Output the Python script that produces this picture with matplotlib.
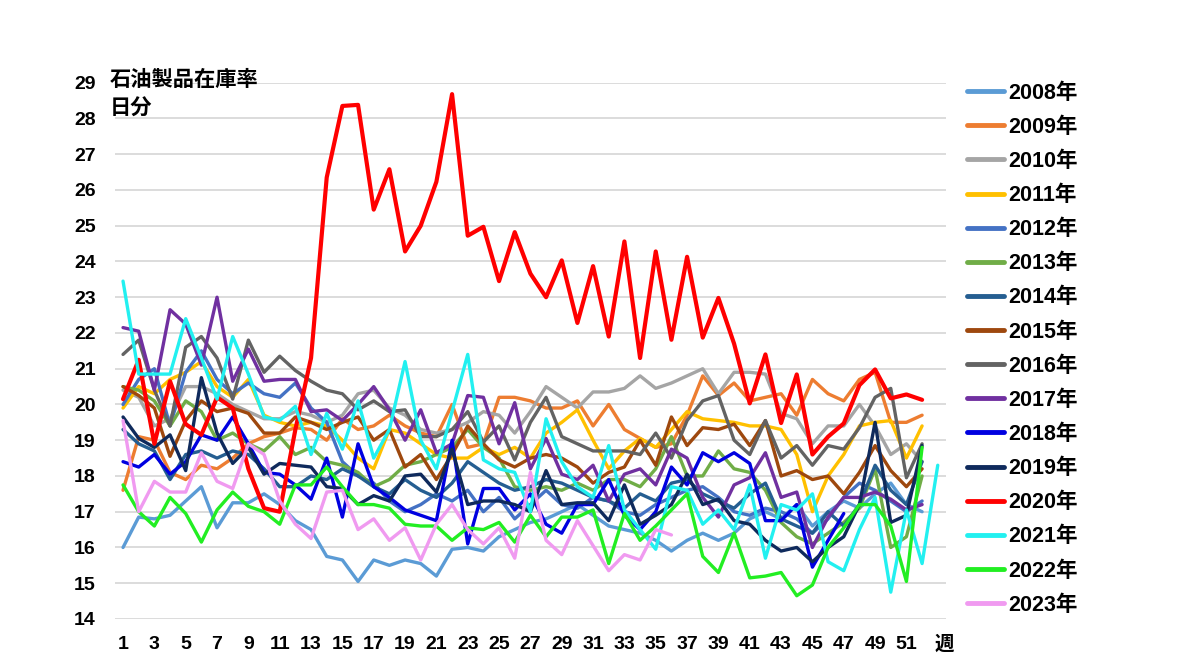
import numpy as np
import matplotlib
matplotlib.use("Agg")
import matplotlib.pyplot as plt
from matplotlib import font_manager

# weekly oil product inventory ratio (days of supply), by year
y2008 = [16.0, 16.85, 16.8, 16.9, 17.3, 17.7, 16.55, 17.25, 17.25, 17.5, 17.2, 16.75, 16.5, 15.75,
         15.65, 15.05, 15.65, 15.5, 15.65, 15.55, 15.2, 15.95, 16.0, 15.9, 16.3, 16.5, 16.7,
         16.8, 17.0, 17.2, 16.9, 16.6, 16.5, 16.4, 16.2, 15.9, 16.2, 16.4, 16.2, 16.4, 16.8,
         17.0, 16.8, 17.2, 16.6, 17.0, 17.3, 17.1, 17.5, 17.8, 17.2, 17.0]
y2009 = [17.6, 19.1, 19.0, 18.1, 17.9, 18.3, 18.2, 18.5, 18.9, 19.1,
         19.2, 19.35, 19.3, 19.0, 19.6, 19.3, 19.4, 19.7, 19.4, 19.2,
         19.1, 20.0, 18.8, 18.9, 20.2, 20.2, 20.1, 19.9, 19.9, 20.1,
         19.4, 20.0, 19.3, 19.05, 18.8, 18.9, 19.7, 20.8, 20.25, 20.6,
         20.1, 20.2, 20.3, 19.7, 20.7, 20.3, 20.1, 20.7, 20.9, 19.5, 19.5, 19.7]
y2010 = [20.4, 20.2, 19.4, 19.6, 20.5, 20.5, 20.3, 20.0, 19.8, 19.6,
         19.6, 19.8, 19.7, 19.5, 19.7, 20.3, 20.4, 19.9, 19.7, 19.3,
         19.2, 19.3, 19.5, 19.8, 19.7, 19.2, 19.8, 20.5, 20.2, 19.9,
         20.35, 20.35, 20.45, 20.8, 20.45, 20.6, 20.8, 21.0, 20.3, 20.9,
         20.9, 20.85, 19.75, 19.6, 18.9, 19.4, 19.4, 20.0, 19.4, 18.6, 18.9, 18.4]
y2011 = [19.9, 20.5, 20.3, 20.7, 20.9, 21.2, 20.5, 20.2, 20.7, 19.7,
         19.5, 19.4, 19.5, 19.4, 19.0, 18.5, 18.2, 19.3, 19.2, 18.9,
         18.6, 18.5, 18.5, 18.8, 18.6, 18.8, 18.5, 19.2, 19.5, 19.85,
         19.0, 18.2, 18.7, 19.05, 18.8, 19.3, 19.8, 19.6, 19.55, 19.5,
         19.4, 19.4, 19.3, 18.6, 17.0, 18.0, 18.6, 19.4, 19.5, 19.55, 18.5, 19.4]
y2012 = [20.0, 20.7, 21.0, 19.4, 20.9, 21.5, 20.7, 20.3, 20.6, 20.3,
         20.2, 20.6, 19.9, 19.5, 18.4, 18.0, 17.8, 17.3, 17.0, 17.2,
         17.5, 17.3, 17.6, 17.0, 17.4, 16.8, 17.2, 17.6, 17.2, 17.1,
         17.4, 17.3, 17.0, 16.9, 17.2, 17.4, 17.6, 17.7, 17.4, 17.0,
         16.9, 17.1, 17.0, 16.8, 16.4, 16.8, 17.4, 17.8, 17.6, 17.3, 17.0, 17.3]
y2013 = [20.5, 20.4, 20.1, 19.4, 20.1, 19.8, 19.0, 19.2, 18.9, 18.7,
         19.1, 18.6, 18.8, 18.4, 18.3, 18.1, 17.7, 17.9, 18.3, 18.4,
         18.6, 18.8, 19.3, 18.8, 18.5, 17.7, 17.6, 17.7, 17.6, 17.8,
         17.6, 17.9, 17.9, 17.7, 18.2, 19.1, 18.0, 18.0, 18.7, 18.2,
         18.1, 17.6, 16.7, 16.3, 16.1, 16.4, 16.7, 17.1, 18.2, 16.0, 16.3, 18.0]
y2014 = [19.3, 18.9, 18.7, 17.9, 18.6, 18.7, 18.5, 18.7, 18.6, 18.2,
         17.7, 17.7, 18.0, 17.9, 18.2, 18.0, 17.7, 17.5, 17.9, 17.6,
         17.4, 17.8, 18.4, 18.1, 17.8, 17.6, 17.7, 17.9, 17.8, 17.6,
         17.4, 17.3, 17.1, 17.5, 17.3, 17.8, 17.9, 17.5, 17.3, 17.1,
         17.5, 17.8, 16.8, 16.6, 16.4, 17.0, 16.6, 17.2, 18.3, 17.6, 17.2, 18.4]
y2015 = [20.5, 20.25, 19.9, 18.55, 19.55, 20.1, 19.8, 19.9, 19.75, 19.2, 19.2, 19.65, 19.5, 19.3,
         19.5, 19.65, 19.0, 19.3, 18.25, 18.6, 17.9, 18.6, 19.4, 18.9, 18.45, 18.25, 18.5,
         18.6, 18.5, 18.25, 17.8, 18.1, 18.25, 19.0, 18.3, 19.65, 18.85, 19.35, 19.3, 19.45, 18.85,
         19.55, 18.0, 18.15, 17.9, 18.0, 17.5, 18.1, 18.85, 18.15, 17.7, 18.2]
y2016 = [21.4, 21.8, 20.4, 19.4, 21.6, 21.9, 21.3, 20.15, 21.8, 20.9, 21.35, 20.95, 20.65, 20.4,
         20.3, 19.85, 20.1, 19.8, 19.85, 19.1, 19.1, 19.3, 19.8, 18.95, 19.4, 18.45, 19.5,
         20.2, 19.1, 18.9, 18.7, 18.7, 18.7, 18.6, 19.2, 18.5, 19.55, 20.1, 20.25, 19.0, 18.6,
         19.55, 18.5, 18.85, 18.3, 18.85, 18.75, 19.35, 20.2, 20.45, 17.95, 18.9]
y2017 = [22.15, 22.05, 20.4, 22.65, 22.25, 21.1, 23.0, 20.65, 21.55, 20.65, 20.7, 20.7, 19.8, 19.85,
         19.55, 20.0, 20.5, 19.85, 19.0, 19.85, 18.65, 18.9, 20.25, 20.2, 18.9, 20.05, 18.2,
         19.05, 18.05, 17.9, 18.3, 17.3, 18.05, 18.2, 17.75, 18.75, 18.5, 17.4, 16.85, 17.75, 17.95,
         18.65, 17.4, 17.55, 16.0, 16.85, 17.4, 17.4, 17.55, 17.35, 17.05, 17.2]
y2018 = [18.4, 18.25, 18.6, 18.05, 18.4, 19.15, 19.0, 19.65, 18.9, 18.1, 18.05, 17.75, 17.35, 18.5,
         16.85, 18.9, 17.7, 17.4, 17.05, 16.9, 16.75, 19.0, 16.1, 17.65, 17.65, 17.05, 17.5,
         16.65, 16.4, 17.2, 17.2, 17.9, 16.9, 16.5, 17.0, 18.25, 17.75, 18.65, 18.4, 18.65, 18.35,
         16.75, 16.75, 17.2, 15.45, 16.2, 16.95]
y2019 = [19.65, 19.05, 18.8, 19.15, 18.15, 20.75, 19.2, 18.35, 18.8, 18.05, 18.35, 18.3, 18.25, 17.7,
         17.65, 17.2, 17.45, 17.3, 18.0, 18.05, 17.55, 18.75, 17.2, 17.3, 17.3, 17.2, 17.0,
         18.15, 17.2, 17.25, 17.25, 16.75, 17.75, 16.65, 16.9, 17.2, 18.05, 17.2, 17.35, 16.75, 16.65,
         16.2, 15.9, 16.0, 15.6, 16.0, 16.3, 17.2, 19.5, 16.7, 16.9, 18.85]
y2020 = [20.15, 21.25, 18.9, 20.65, 19.45, 19.15, 20.2, 19.9, 18.2, 17.1, 17.0, 19.3, 21.3,
         26.35, 28.35, 28.38, 25.45, 26.58, 24.28, 25.0, 26.23, 28.68, 24.72, 24.97, 23.45, 24.82,
         23.66, 23.0, 24.03, 22.28, 23.87, 21.9, 24.56, 21.3, 24.28, 21.81, 24.13, 21.87, 22.98,
         21.7, 20.03, 21.4, 19.48, 20.84, 18.6, 19.1, 19.47, 20.54, 20.98, 20.17, 20.28, 20.13]
y2021 = [23.45, 20.85, 20.85, 20.85, 22.4, 21.3, 20.15, 21.9, 20.85, 19.65, 19.55, 19.95, 18.6, 19.75,
         18.75, 20.1, 18.5, 19.3, 21.2, 19.0, 18.2, 19.8, 21.4, 18.45, 18.2, 18.1, 17.0,
         19.6, 18.4, 17.7, 17.4, 18.85, 17.05, 16.5, 15.95, 17.7, 17.6, 16.65, 17.05, 16.5, 17.75,
         15.7, 17.2, 17.05, 17.5, 15.6, 15.35, 16.5, 17.4, 14.75, 17.05, 15.55, 18.3]
y2022 = [17.75, 17.0, 16.6, 17.4, 16.95, 16.15, 17.05, 17.55, 17.15, 17.0, 16.65, 17.75, 17.75, 18.25,
         17.7, 17.2, 17.2, 17.1, 16.65, 16.6, 16.6, 16.2, 16.55, 16.5, 16.7, 16.15, 16.9,
         16.3, 16.85, 16.85, 17.05, 15.55, 16.95, 16.2, 16.6, 17.05, 17.5, 15.75, 15.3, 16.4, 15.15,
         15.2, 15.3, 14.65, 14.95, 16.0, 16.55, 17.2, 17.2, 16.6, 15.05, 18.8]
y2023 = [19.55, 17.0, 17.85, 17.55, 17.55, 18.65, 17.85, 17.65, 18.9, 18.6, 17.3, 16.65, 16.25, 17.55,
         17.6, 16.5, 16.8, 16.2, 16.55, 15.65, 16.65, 17.2, 16.5, 16.1, 16.55, 15.7, 18.1,
         16.2, 15.8, 16.75, 16.05, 15.35, 15.8, 15.65, 16.5, 16.35]

years = ["2008年", "2009年", "2010年", "2011年", "2012年", "2013年", "2014年", "2015年",
         "2016年", "2017年", "2018年", "2019年", "2020年", "2021年", "2022年", "2023年"]
series = [y2008, y2009, y2010, y2011, y2012, y2013, y2014, y2015,
          y2016, y2017, y2018, y2019, y2020, y2021, y2022, y2023]
colors = ["#5B9BD5", "#ED7D31", "#A5A5A5", "#FFC000", "#4472C4", "#70AD47", "#255E91", "#9E480E",
          "#636363", "#7030A0", "#0000E0", "#0F2A5C", "#FF0000", "#22F0F0", "#22EE22", "#F09AF0"]

tick_weeks = list(range(1, 52, 2))
tick_labels = [str(w) for w in tick_weeks]

installed = {f.name for f in font_manager.fontManager.ttflist}
num_font = "Liberation Sans Narrow" if "Liberation Sans Narrow" in installed else "Liberation Sans"
cjk = "Noto Sans CJK JP"

fig = plt.figure(figsize=(12, 6.67), dpi=100)
ax = fig.add_axes([0.096, 0.072, 0.692, 0.804])

for label, vals, c in zip(years, series, colors):
    weeks = np.arange(1, len(vals) + 1)
    lw = 3.0 if label == "2020年" else 2.4
    ax.plot(weeks, vals, color=c, linewidth=lw, label=label,
            solid_joinstyle="round", solid_capstyle="round")

ax.set_xlim(0.5, 53.5)
ax.set_ylim(14, 29)
ax.set_yticks(range(14, 30))
ax.set_xticks(tick_weeks + [53.4])
ax.set_xticklabels(tick_labels + ["週"])
for spine in ax.spines.values():
    spine.set_visible(False)
ax.grid(axis="y", color="#D9D9D9", linewidth=1.3)
ax.set_axisbelow(True)
ax.tick_params(length=0)
ax.tick_params(axis="x", pad=12)
ax.tick_params(axis="y", pad=14)

for t in ax.get_yticklabels() + ax.get_xticklabels():
    t.set_family([num_font, cjk])
    t.set_fontweight("bold")
    t.set_fontsize(14)

fig.text(0.0915, 1 - 80 / 667, "石油製品在庫率", family=[cjk], fontweight="bold",
         fontsize=15.3, va="center", ha="left")
fig.text(0.0915, 1 - 108 / 667, "日分", family=[cjk], fontweight="bold",
         fontsize=15.3, va="center", ha="left")

leg = ax.legend(loc="upper left", bbox_to_anchor=(0.806, 0.876), bbox_transform=fig.transFigure,
                frameon=False, borderpad=0, borderaxespad=0, handlelength=1.7,
                handletextpad=0.2, labelspacing=0.61,
                prop={"family": ["Liberation Sans", cjk], "weight": "bold", "size": 15.5})
for h in leg.get_lines():
    h.set_linewidth(3.5)

fig.savefig("out.png", dpi=100)
